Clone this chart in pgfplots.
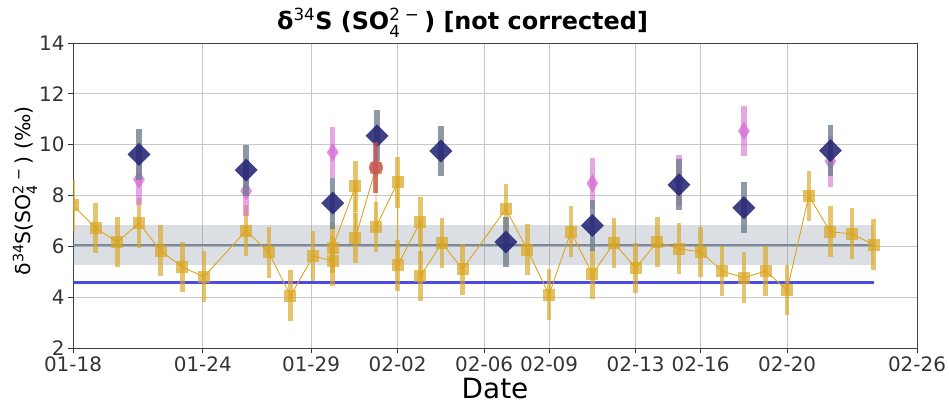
\documentclass[border=0pt]{standalone}
\usepackage{fontspec}
\setmainfont{DejaVu Sans}
\usepackage{amsmath}
\usepackage{pgfplots}
\pgfplotsset{compat=1.18}

\definecolor{goldc}{RGB}{218,165,32}
\definecolor{navyc}{RGB}{38,38,118}
\definecolor{orchidc}{RGB}{214,108,210}
\definecolor{slatec}{RGB}{112,128,144}
\definecolor{redc}{RGB}{200,84,92}
\definecolor{bluec}{RGB}{55,55,232}
\definecolor{gridc}{RGB}{200,200,200}

% stacked subscript / superscript, set in the text font
\newcommand{\subsup}[2]{$\mathrm{}_{\text{#1}}^{\text{#2}}$}

\begin{document}
\begin{tikzpicture}[x=1bp,y=1bp]
\begin{axis}[
  at={(73bp,56bp)}, anchor=south west,
  scale only axis, width=844bp, height=305bp,
  xmin=0, xmax=39, ymin=2, ymax=14,
  xtick={0,6,11,15,19,22,26,29,33,39},
  xticklabels={01-18,01-24,01-29,02-02,02-06,02-09,02-13,02-16,02-20,02-26},
  ytick={2,4,6,8,10,12,14},
  /pgf/number format/assume math mode=true,
  tick label style={font=\fontsize{20}{24}\selectfont, text=black!80},
  xtick pos=bottom, ytick pos=left, tick align=outside,
  major tick length=5bp,
  tick style={black!80, line width=0.8bp},
  axis line style={black!75, line width=0.8bp},
  grid=major, major grid style={gridc, line width=0.9bp},
  clip marker paths=true,
  title={\textbf{δ}\textsuperscript{34}\textbf{S (SO}\subsup{4}{2\hspace{0.3em}−}\hspace{0.2em}\textbf{) [not corrected]}},
  title style={font=\fontsize{24}{28}\selectfont, at={(rel axis cs:0.4615,1.0235)}, anchor=base},
  xlabel={Date},
  xlabel style={font=\fontsize{28}{32}\selectfont, at={(rel axis cs:0.5,-0.165)}, anchor=base},
  ylabel={δ\textsuperscript{34}S(SO\subsup{4}{2\hspace{0.3em}−}\hspace{0.2em}) (‰)},
  ylabel style={font=\fontsize{20.5}{24}\selectfont, at={(rel axis cs:-0.057,0.515)}, anchor=center, rotate=0},
]

% mean band and reference lines
\addplot[draw=none, fill=slatec, fill opacity=0.25, forget plot]
  coordinates {(0,5.25) (37,5.25) (37,6.85) (0,6.85)} -- cycle;
\addplot[slatec, line width=2bp, opacity=0.9, forget plot]
  coordinates {(0,6.06) (37,6.06)};
\addplot[bluec, line width=2.5bp, opacity=0.9, forget plot]
  coordinates {(0,4.58) (37,4.58)};

% daily samples
\addplot[color=goldc, line width=0.9bp, mark=square*, mark size=6bp,
  mark options={solid, fill=goldc, fill opacity=0.7, draw opacity=0},
  error bars/.cd, y dir=both, y explicit, error mark=none,
  error bar style={line width=4.5bp, goldc, opacity=0.65}]
  table[x=d, y=v, y error=e] {
d     v     e
0.00  7.62  1.0
1.05  6.72  1.0
2.05  6.17  1.0
3.05  6.92  1.0
4.05  5.82  1.0
5.05  5.19  1.0
6.05  4.80  1.0
8.00  6.62  1.0
9.05  5.76  1.0
10.05 4.05  1.0
11.10 5.62  1.0
12.00 5.42  1.0
12.00 5.95  1.0
13.05 8.36  1.0
13.05 6.33  1.0
14.00 9.10  1.0
14.00 6.76  1.0
15.00 8.52  1.0
15.00 5.25  1.0
16.05 6.96  1.0
16.05 4.83  1.0
17.05 6.13  1.0
18.00 5.10  1.0
20.00 7.47  1.0
21.00 5.86  1.0
22.00 4.09  1.0
23.00 6.57  1.0
24.00 4.91  1.0
25.00 6.13  1.0
26.00 5.15  1.0
27.00 6.17  1.0
28.00 5.90  1.0
29.00 5.78  1.0
30.00 5.03  1.0
31.00 4.76  1.0
32.00 5.03  1.0
33.00 4.28  1.0
34.00 7.98  1.0
35.00 6.57  1.0
36.00 6.49  1.0
37.00 6.06  1.0
};

% thin diamonds
\addplot[color=orchidc, only marks, mark=diamond*, mark size=9.2bp,
  mark options={solid, fill=orchidc, fill opacity=0.75, draw opacity=0, xscale=0.85},
  error bars/.cd, y dir=both, y explicit, error mark=none,
  error bar style={line width=5.5bp, orchidc, opacity=0.6}]
  table[x=d, y=v, y error=e] {
d     v      e
3.05  8.63   1.0
8.00  8.18   1.0
12.00 9.70   1.0
24.00 8.48   1.0
28.00 8.60   1.0
31.00 10.54  1.0
35.00 9.35   1.0
};

% large diamonds
\addplot[color=navyc, only marks, mark=square*, mark size=8.1bp,
  mark options={solid, fill=navyc, fill opacity=0.88, draw opacity=0, rotate=45},
  error bars/.cd, y dir=both, y explicit, error mark=none,
  error bar style={line width=5.5bp, slatec, opacity=0.8}]
  table[x=d, y=v, y error=e] {
d     v      e
3.05  9.62   1.0
8.00  9.00   1.0
12.00 7.70   1.0
14.05 10.35  1.0
17.00 9.75   1.0
20.00 6.17   1.0
24.00 6.82   1.0
28.00 8.42   1.0
31.00 7.52   1.0
35.00 9.77   1.0
};

% circle
\addplot[color=redc, only marks, mark=*, mark size=7bp,
  mark options={solid, fill=redc, fill opacity=0.8, draw opacity=0},
  error bars/.cd, y dir=both, y explicit, error mark=none,
  error bar style={line width=5bp, redc, opacity=0.7}]
  table[x=d, y=v, y error=e] {
d     v     e
14.00 9.10  1.0
};

\end{axis}
\pgfresetboundingbox
\path (0,0) rectangle (949,404);
\end{tikzpicture}
\end{document}
